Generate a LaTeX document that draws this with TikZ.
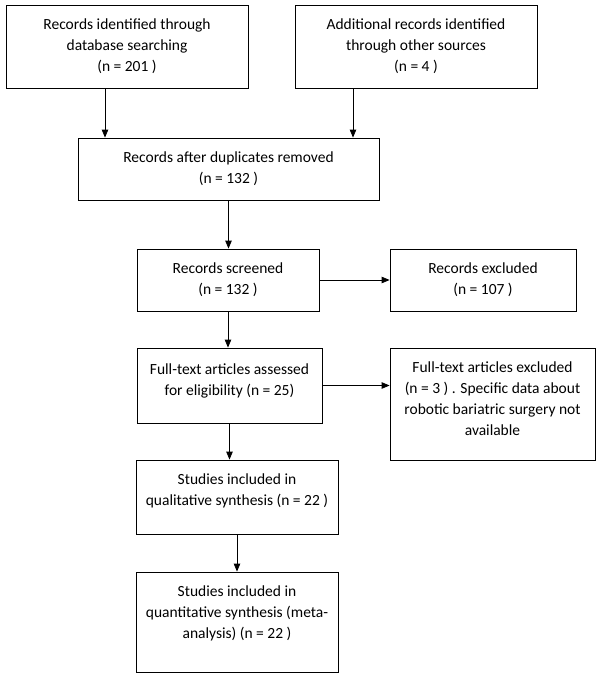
\documentclass[tikz,border=0pt]{standalone}
\usepackage{fontspec}
\setmainfont{Carlito}
\usetikzlibrary{arrows.meta}
% extra depth below the last line, lifts the text inside its box
\newcommand{\lift}[1]{\rule[-#1]{0pt}{0pt}}
\begin{document}
\begin{tikzpicture}[
            x=1pt, y=-1pt,
            >={Triangle[length=8pt,width=6.5pt]},
            line width=0.8pt,
            block/.style={draw, rectangle, align=center, inner sep=2pt,
                            font=\fontsize{15.5}{21}\selectfont}
        ]
            \useasboundingbox (0,0) rectangle (600,677);

            \node[block, minimum width=242pt, minimum height=83pt] (db) at (127,46.5)
                {Records identified through\\database searching\\(n = 201 )};
            \node[block, minimum width=242pt, minimum height=83pt] (other) at (416,46.5)
                {Additional records identified\\through other sources\\(n = 4 )};
            \node[block, minimum width=301pt, minimum height=62pt] (dup) at (228.5,169)
                {Records after duplicates removed\\(n = 132 )};
            \node[block, minimum width=182pt, minimum height=62pt] (screen) at (228,280)
                {Records screened\\(n = 132 )};
            \node[block, minimum width=186pt, minimum height=62pt] (excl) at (483,280)
                {Records excluded\\(n = 107 )};
            \node[block, minimum width=185pt, minimum height=75pt] (full) at (229.5,385.5)
                {Full-text articles assessed\\for eligibility (n = 25)\lift{12pt}};
            \node[block, minimum width=205pt, minimum height=112pt] (fexcl) at (492.5,404)
                {Full-text articles excluded\\(n = 3 ) . Specific data about\\robotic bariatric surgery  not\\available\lift{10pt}};
            \node[block, minimum width=202pt, minimum height=74pt] (qual) at (237,497)
                {Studies included in\\qualitative synthesis (n = 22 )\lift{14pt}};
            \node[block, minimum width=202pt, minimum height=100pt] (quant) at (237,622)
                {Studies included in\\quantitative synthesis (meta-\\analysis) (n = 22 )\lift{19pt}};

            \draw[->] ([xshift=-22pt]db.south) -- ([xshift=-22pt]db.south |- dup.north);
            \draw[->] ([xshift=-63pt]other.south) -- ([xshift=-63pt]other.south |- dup.north);
            \draw[->] (dup.south) -- (dup.south |- screen.north);
            \draw[->] (screen.east) -- (screen.east -| excl.west);
            \draw[->] (screen.south) -- (screen.south |- full.north);
            \draw[->] (full.east) -- (full.east -| fexcl.west);
            \draw[->] (full.south) -- (full.south |- qual.north);
            \draw[->] (qual) -- (quant);

        \end{tikzpicture}
\end{document}
